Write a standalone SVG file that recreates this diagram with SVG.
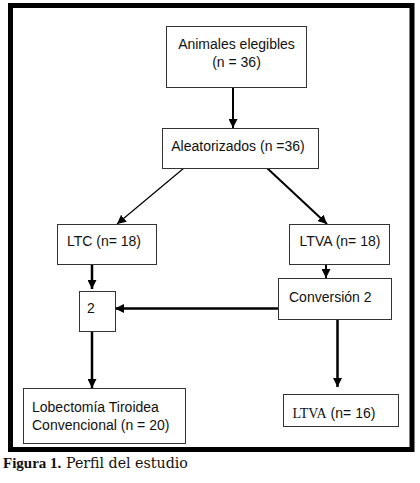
<svg xmlns="http://www.w3.org/2000/svg" width="420" height="483" viewBox="0 0 420 483">
<defs>
<style>
.box{fill:#fff;stroke:#333;stroke-width:1}
.t{font-family:"Liberation Sans",Arial,sans-serif;font-size:14px;fill:#111}
.s{font-family:"Liberation Serif","Times New Roman",serif;font-size:14px;fill:#111}
.c{stroke:#000;fill:none}
</style>
<marker id="ah" viewBox="0 0 10 10" refX="10" refY="5" markerWidth="9" markerHeight="9" markerUnits="userSpaceOnUse" orient="auto">
<path d="M0,0 L10,5 L0,10 z" fill="#000"/>
</marker>
</defs>
<rect x="0" y="0" width="420" height="483" fill="#fff"/>
<rect x="10.5" y="5.5" width="401.5" height="444" fill="none" stroke="#000" stroke-width="5"/>
<g id="connectors">
<line class="c" x1="233" y1="88" x2="233" y2="128" stroke-width="2" marker-end="url(#ah)"/>
<line class="c" x1="184" y1="168" x2="117" y2="224" stroke-width="1.2" marker-end="url(#ah)"/>
<line class="c" x1="267" y1="168" x2="327" y2="224" stroke-width="2" marker-end="url(#ah)"/>
<line class="c" x1="92" y1="264" x2="92" y2="289" stroke-width="2.5" marker-end="url(#ah)"/>
<line class="c" x1="326" y1="264" x2="326" y2="278" stroke-width="2" marker-end="url(#ah)"/>
<line class="c" x1="278" y1="308.5" x2="115" y2="308.5" stroke-width="2.5" marker-end="url(#ah)"/>
<line class="c" x1="92" y1="331" x2="92" y2="388" stroke-width="2.5" marker-end="url(#ah)"/>
<line class="c" x1="337.5" y1="320" x2="337.5" y2="387" stroke-width="2.5" marker-end="url(#ah)"/>
</g>
<g id="n-elegibles">
<rect class="box" x="166.5" y="26.5" width="140" height="61"/>
<text class="t" x="236.5" y="48.5" text-anchor="middle">Animales elegibles</text>
<text class="t" x="236.5" y="67" text-anchor="middle">(n = 36)</text>
</g>
<g id="n-aleatorizados">
<rect class="box" x="162.5" y="128.5" width="156" height="40"/>
<text class="t" x="238" y="151" text-anchor="middle">Aleatorizados (n =36)</text>
</g>
<g id="n-ltc">
<rect class="box" x="57.5" y="224.5" width="99" height="40"/>
<text class="t" x="104" y="246" text-anchor="middle">LTC (n= 18)</text>
</g>
<g id="n-ltva18">
<rect class="box" x="289.5" y="224.5" width="100" height="40"/>
<text class="t" x="340" y="246" text-anchor="middle">LTVA (n= 18)</text>
</g>
<g id="n-2">
<rect class="box" x="79.5" y="291.5" width="36" height="40"/>
<text class="t" x="91" y="313" text-anchor="middle">2</text>
</g>
<g id="n-conversion">
<rect class="box" x="278.5" y="278.5" width="113" height="41"/>
<text class="t" x="289" y="301.5">Conversión 2</text>
</g>
<g id="n-lobectomia">
<rect class="box" x="23.5" y="388.5" width="162" height="55"/>
<text class="t" x="32" y="411.5">Lobectomía Tiroidea</text>
<text class="t" x="32" y="430">Convencional (n = 20)</text>
</g>
<g id="n-ltva16">
<rect class="box" x="283.5" y="394.5" width="115" height="32"/>
<text x="292.5" y="418"><tspan class="s">LTVA</tspan><tspan class="t"> (n= 16)</tspan></text>
</g>
<text x="3" y="468" fill="#111"><tspan font-family="'Liberation Serif','Times New Roman',serif" font-size="15" font-weight="bold">Figura 1.</tspan> <tspan x="66" font-family="'DejaVu Serif','Liberation Serif',serif" font-size="14.2">Perfil del estudio</tspan></text>
</svg>
